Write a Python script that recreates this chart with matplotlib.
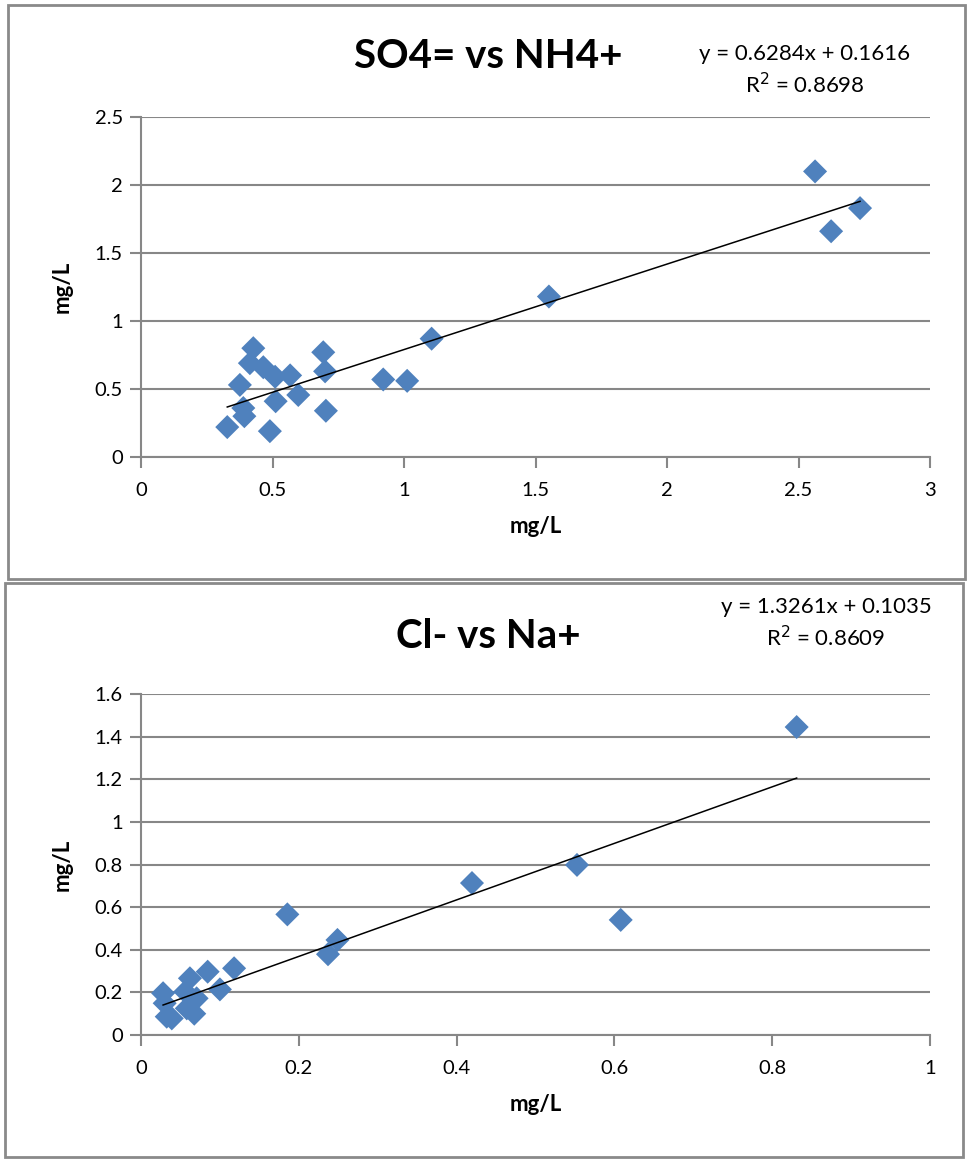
import numpy as np
import matplotlib
matplotlib.use("Agg")
import matplotlib.pyplot as plt
from matplotlib.patches import Rectangle

plt.rcParams['font.family'] = ['Lato', 'DejaVu Sans']

# SO4= vs NH4+ (x = NH4+, y = SO4=)
so4_x = [0.427, 0.414, 0.465, 0.51, 0.567, 0.376, 0.512, 0.598, 0.389, 0.393,
         0.328, 0.49, 0.693, 0.70, 0.703, 0.921, 1.012, 1.105, 1.551, 2.563,
         2.624, 2.734]
so4_y = [0.80, 0.69, 0.66, 0.59, 0.60, 0.53, 0.41, 0.456, 0.36, 0.30,
         0.22, 0.19, 0.77, 0.63, 0.34, 0.57, 0.56, 0.87, 1.18, 2.10,
         1.66, 1.83]
so4_fit = (0.6284, 0.1616)
so4_eq = ["y = 0.6284x + 0.1616", "R$^2$ = 0.8698"]

# Cl- vs Na+ (x = Na+, y = Cl-)
cl_x = [0.831, 0.5526, 0.608, 0.4195, 0.1855, 0.249, 0.237, 0.118, 0.0845, 0.062,
        0.100, 0.028, 0.056, 0.0705, 0.030, 0.058, 0.0326, 0.039, 0.0675]
cl_y = [1.445, 0.798, 0.54, 0.713, 0.566, 0.446, 0.379, 0.313, 0.297, 0.266,
        0.214, 0.196, 0.203, 0.172, 0.149, 0.125, 0.086, 0.078, 0.10]
cl_fit = (1.3261, 0.1035)
cl_eq = ["y = 1.3261x + 0.1035", "R$^2$ = 0.8609"]

W, H = 967, 1160
fig = plt.figure(figsize=(W / 100, H / 100), dpi=100)

grid_c = '#878787'
pt_c = '#4F81BD'


def px_box(x0, y0, x1, y1):
    # pixel box -> figure fraction [left, bottom, width, height]
    return [x0 / W, 1 - y1 / H, (x1 - x0) / W, (y1 - y0) / H]


def panel(ax, xs, ys, fit, eq, title, xlim, xticks, ylim, yticks, ylabels, xlabels,
          title_y, eq_x, eq_y):
    ax.scatter(xs, ys, marker='D', s=150, color=pt_c, edgecolors='none', zorder=3)
    xx = np.array([min(xs), max(xs)])
    ax.plot(xx, fit[0] * xx + fit[1], color='black', lw=1.1, zorder=4)
    ax.set_xlim(xlim)
    ax.set_ylim(ylim)
    ax.set_xticks(xticks)
    ax.set_xticklabels(xlabels)
    ax.set_yticks(yticks)
    ax.set_yticklabels(ylabels)
    ax.grid(axis='y', color=grid_c, lw=1.5)
    ax.set_axisbelow(True)
    for s in ['top', 'right']:
        ax.spines[s].set_visible(False)
    for s in ['left', 'bottom']:
        ax.spines[s].set_color(grid_c)
        ax.spines[s].set_linewidth(1.5)
    ax.tick_params(axis='both', colors=grid_c, width=1.5, length=8, labelsize=14.5,
                   labelcolor='black')
    ax.tick_params(axis='x', pad=10)
    ax.tick_params(axis='y', pad=5)
    ax.set_xlabel('mg/L', fontsize=16, fontweight='bold', labelpad=12)
    ax.set_ylabel('mg/L', fontsize=16, fontweight='bold', labelpad=16)
    fig.text(488 / W, 1 - title_y / H, title, fontsize=29, fontweight='bold',
             ha='center', va='center')
    fig.text(eq_x / W, 1 - eq_y / H, eq[0], fontsize=16, ha='center', va='center')
    fig.text(eq_x / W, 1 - (eq_y + 31) / H, eq[1], fontsize=16, ha='center',
             va='center')


ax1 = fig.add_axes(px_box(141, 117, 930, 457))
panel(ax1, so4_x, so4_y, so4_fit, so4_eq, 'SO4= vs NH4+',
      (0, 3), [0, 0.5, 1, 1.5, 2, 2.5, 3], (0, 2.5),
      [0, 0.5, 1, 1.5, 2, 2.5], ['0', '0.5', '1', '1.5', '2', '2.5'],
      ['0', '0.5', '1', '1.5', '2', '2.5', '3'], 57, 805, 54)

ax2 = fig.add_axes(px_box(141, 694, 930, 1035))
panel(ax2, cl_x, cl_y, cl_fit, cl_eq, 'Cl- vs Na+',
      (0, 1), [0, 0.2, 0.4, 0.6, 0.8, 1], (0, 1.6),
      [0, 0.2, 0.4, 0.6, 0.8, 1.0, 1.2, 1.4, 1.6],
      ['0', '0.2', '0.4', '0.6', '0.8', '1', '1.2', '1.4', '1.6'],
      ['0', '0.2', '0.4', '0.6', '0.8', '1'], 636, 826, 607)

# panel borders
for (x0, y0, x1, y1) in [(8, 5, 965, 579), (5, 583, 963, 1157)]:
    b = px_box(x0, y0, x1, y1)
    fig.patches.append(Rectangle((b[0], b[1]), b[2], b[3], transform=fig.transFigure,
                                 fill=False, edgecolor='#8a8a8a', lw=2))

fig.savefig('out.png', dpi=100)
